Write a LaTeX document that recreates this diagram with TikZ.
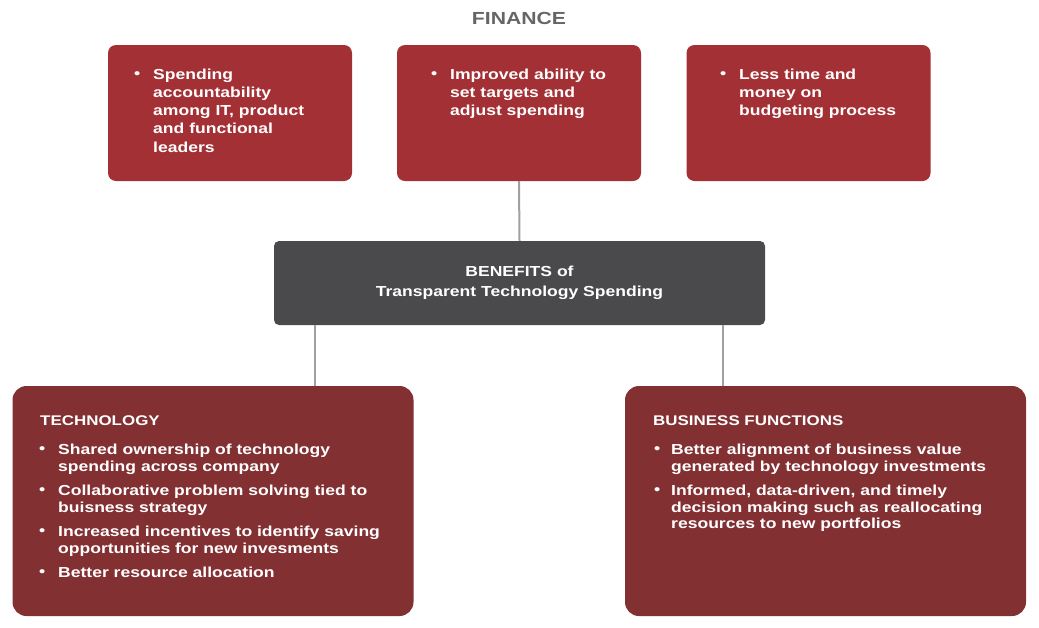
\documentclass[tikz,border=0pt]{standalone}
\usepackage{fontspec}
\setmainfont{Liberation Sans}[FakeStretch=1.21]
\definecolor{topred}{HTML}{A33035}
\definecolor{lowred}{HTML}{833033}
\definecolor{darkbox}{HTML}{4A4A4C}
\definecolor{conn}{HTML}{A0A0A0}
\definecolor{titlegray}{HTML}{666666}
\tikzset{
  topbox/.style={fill=topred, draw=none, rounded corners=8pt, minimum width=244pt, minimum height=136pt, inner sep=0pt},
  lowbox/.style={fill=lowred, draw=none, rounded corners=14pt, minimum width=401pt, minimum height=230pt, inner sep=0pt},
  centerbox/.style={fill=darkbox, draw=none, rounded corners=5pt, minimum width=491pt, minimum height=84pt, inner sep=0pt},
  conline/.style={draw=conn, line width=2pt},
  boxtext/.style={text=white, anchor=north west, inner sep=0pt, align=left, font=\bfseries},
}
\newcommand{\bul}{\raisebox{0.1ex}{\textbullet}}
\begin{document}
\begin{tikzpicture}[x=1pt,y=-1pt]
\useasboundingbox (0,0) rectangle (1039,627);
\node[text=titlegray, font=\fontsize{17.5}{20}\selectfont\bfseries] (title) at (519,18) {FINANCE};
% top boxes
\node[topbox] (f1) at (230,113) {};
\node[topbox] (f2) at (519,113) {};
\node[topbox] (f3) at (808.5,113) {};
% center
\node[centerbox, text=white, align=center, font=\fontsize{14.5}{20}\selectfont\bfseries] (c) at (519.5,283) {BENEFITS of\\Transparent Technology Spending};
% lower boxes
\node[lowbox] (t) at (213,501) {};
\node[lowbox] (b) at (825.5,501) {};
% connectors
\draw[conline] (f2.south) -- (c.north);
\draw[conline] (c.south -| 315,0) -- (t.north -| 315,0);
\draw[conline] (c.south -| 723,0) -- (b.north -| 723,0);
% top texts
\node[boxtext, font=\fontsize{14.5}{18.3}\selectfont\bfseries] (f1t) at (134,66) {%
\begin{tabular}{@{}p{19pt}@{}l@{}}
\bul & Spending\\
 & accountability\\
 & among IT, product\\
 & and functional\\
 & leaders
\end{tabular}};
\node[boxtext, font=\fontsize{14.5}{18.3}\selectfont\bfseries] (f2t) at (431,66) {%
\begin{tabular}{@{}p{19pt}@{}l@{}}
\bul & Improved ability to\\
 & set targets and\\
 & adjust spending
\end{tabular}};
\node[boxtext, font=\fontsize{14.5}{18.3}\selectfont\bfseries] (f3t) at (720,66) {%
\begin{tabular}{@{}p{19pt}@{}l@{}}
\bul & Less time and\\
 & money on\\
 & budgeting process
\end{tabular}};
% technology
\node[boxtext, font=\fontsize{14}{16}\selectfont\bfseries] (th) at (40,416) {TECHNOLOGY};
\node[boxtext, font=\fontsize{14.5}{16.5}\selectfont\bfseries] (tt) at (39,443) {%
\begin{tabular}{@{}p{19pt}@{}l@{}}
\bul & Shared ownership of technology\\
 & spending across company\\[8pt]
\bul & Collaborative problem solving tied to\\
 & buisness strategy\\[8pt]
\bul & Increased incentives to identify saving\\
 & opportunities for new invesments\\[8pt]
\bul & Better resource allocation
\end{tabular}};
% business
\node[boxtext, font=\fontsize{14}{16}\selectfont\bfseries] (bh) at (653,416) {BUSINESS FUNCTIONS};
\node[boxtext, font=\fontsize{14.5}{16.5}\selectfont\bfseries] (bt) at (654,443) {%
\begin{tabular}{@{}p{17pt}@{}l@{}}
\bul & Better alignment of business value\\
 & generated by technology investments\\[8pt]
\bul & Informed, data-driven, and timely\\
 & decision making such as reallocating\\
 & resources to new portfolios
\end{tabular}};
\end{tikzpicture}
\end{document}
